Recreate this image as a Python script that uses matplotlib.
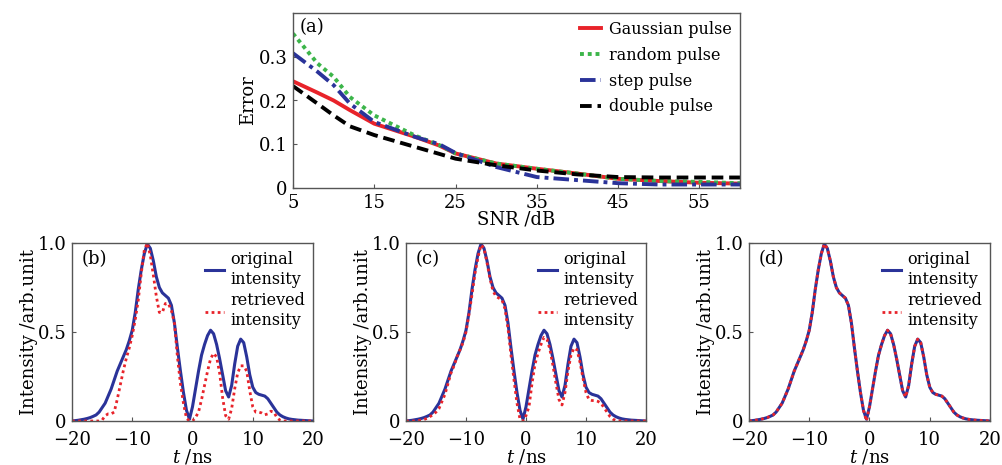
"""
Erreur de reconstruction en fonction du SNR et profils d'intensite
"""

import matplotlib
matplotlib.use("Agg")
import matplotlib.pyplot as plt

plt.rcParams['font.family'] = ['DejaVu Serif']
plt.rcParams['mathtext.fontset'] = 'dejavuserif'

# ---- (a) erreur vs SNR ----
snr_db = [5, 8, 10, 12, 15, 20, 23, 25, 30, 35, 40, 45, 50, 55, 60]
err_gauss = [0.244, 0.218, 0.200, 0.178, 0.147, 0.117, 0.097, 0.079, 0.056, 0.044, 0.033, 0.021, 0.016, 0.012, 0.010]
err_random = [0.353, 0.285, 0.254, 0.208, 0.166, 0.120, 0.098, 0.079, 0.056, 0.044, 0.033, 0.021, 0.016, 0.014, 0.011]
err_step = [0.308, 0.266, 0.235, 0.193, 0.151, 0.117, 0.100, 0.080, 0.048, 0.025, 0.018, 0.011, 0.008, 0.008, 0.008]
err_double = [0.233, 0.193, 0.166, 0.141, 0.121, 0.094, 0.078, 0.067, 0.052, 0.040, 0.031, 0.025, 0.024, 0.024, 0.024]

# ---- (b)(c)(d) intensites ----
t_ns = [-20, -19.5, -19, -18.5, -18, -17.5, -17, -16.5, -16, -15.5,
        -15, -14.5, -14, -13.5, -13, -12.5, -12, -11.5, -11, -10.5,
        -10, -9.5, -9, -8.5, -8, -7.5, -7, -6.5, -6, -5.5,
        -5, -4.5, -4, -3.5, -3, -2.5, -2, -1.5, -1, -0.5,
        0, 0.5, 1, 1.5, 2, 2.5, 3, 3.5, 4, 4.5,
        5, 5.5, 6, 6.5, 7, 7.5, 8, 8.5, 9, 9.5,
        10, 10.5, 11, 11.5, 12, 12.5, 13, 13.5, 14, 14.5,
        15, 15.5, 16, 16.5, 17, 17.5, 18, 18.5, 19, 19.5, 20]
orig = [0.0, 0.002, 0.004, 0.007, 0.010, 0.014, 0.019, 0.026, 0.034, 0.05,
        0.075, 0.10, 0.14, 0.18, 0.23, 0.28, 0.32, 0.36, 0.40, 0.45,
        0.51, 0.61, 0.74, 0.85, 0.94, 0.995, 0.97, 0.90, 0.81, 0.75,
        0.72, 0.705, 0.69, 0.65, 0.55, 0.41, 0.28, 0.16, 0.06, 0.01,
        0.08, 0.18, 0.28, 0.37, 0.43, 0.48, 0.51, 0.49, 0.43, 0.35,
        0.26, 0.17, 0.135, 0.20, 0.32, 0.42, 0.46, 0.44, 0.36, 0.26,
        0.19, 0.16, 0.15, 0.145, 0.14, 0.125, 0.10, 0.075, 0.05, 0.034,
        0.024, 0.017, 0.012, 0.009, 0.007, 0.005, 0.004, 0.003, 0.002, 0.001, 0.0]
retr_b = [0.0, 0.0, 0.0, 0.0, 0.0, 0.0, 0.0, 0.0, 0.0, 0.0,
          0.005, 0.03, 0.04, 0.04, 0.05, 0.12, 0.20, 0.28, 0.35, 0.41,
          0.48, 0.57, 0.68, 0.83, 0.96, 1.0, 0.93, 0.82, 0.70, 0.61,
          0.61, 0.66, 0.66, 0.62, 0.55, 0.36, 0.21, 0.10, 0.015, 0.0,
          0.0, 0.02, 0.05, 0.12, 0.20, 0.28, 0.35, 0.38, 0.36, 0.27,
          0.13, 0.03, 0.01, 0.07, 0.18, 0.27, 0.31, 0.31, 0.28, 0.17,
          0.08, 0.05, 0.05, 0.045, 0.035, 0.04, 0.055, 0.05, 0.02, 0.005,
          0.0, 0.0, 0.0, 0.0, 0.0, 0.0, 0.0, 0.0, 0.0, 0.0, 0.0]
retr_c = [0.0, 0.0, 0.0, 0.0, 0.002, 0.005, 0.008, 0.015, 0.025, 0.035,
          0.05, 0.07, 0.11, 0.15, 0.21, 0.27, 0.31, 0.36, 0.40, 0.44,
          0.50, 0.60, 0.71, 0.83, 0.92, 0.99, 0.97, 0.89, 0.80, 0.73,
          0.70, 0.69, 0.68, 0.63, 0.52, 0.37, 0.23, 0.10, 0.01, 0.0,
          0.03, 0.08, 0.21, 0.32, 0.38, 0.43, 0.47, 0.46, 0.40, 0.31,
          0.21, 0.12, 0.09, 0.16, 0.28, 0.37, 0.41, 0.40, 0.33, 0.24,
          0.16, 0.12, 0.115, 0.115, 0.11, 0.10, 0.075, 0.05, 0.025, 0.01,
          0.003, 0.0, 0.0, 0.0, 0.0, 0.0, 0.0, 0.0, 0.0, 0.0, 0.0]
retr_d = [0.0, 0.002, 0.004, 0.007, 0.010, 0.014, 0.019, 0.026, 0.034, 0.05,
          0.075, 0.10, 0.14, 0.18, 0.23, 0.28, 0.32, 0.36, 0.40, 0.45,
          0.51, 0.61, 0.74, 0.85, 0.94, 0.995, 0.97, 0.90, 0.81, 0.75,
          0.72, 0.705, 0.69, 0.65, 0.55, 0.41, 0.28, 0.16, 0.06, 0.0,
          0.08, 0.18, 0.28, 0.37, 0.43, 0.48, 0.51, 0.49, 0.43, 0.35,
          0.26, 0.17, 0.135, 0.20, 0.32, 0.42, 0.46, 0.44, 0.36, 0.26,
          0.19, 0.16, 0.15, 0.145, 0.14, 0.125, 0.10, 0.075, 0.05, 0.034,
          0.024, 0.017, 0.012, 0.009, 0.007, 0.005, 0.004, 0.003, 0.002, 0.001, 0.0]

FS = 13
FS_LEG = 11.5
SPINE = '#555555'
BLUE = '#2a3399'
RED = '#e8232a'


def style_axes(ax, xpad=4):
    for s in ax.spines.values():
        s.set_color(SPINE)
        s.set_linewidth(1.0)
    ax.tick_params(direction='in', length=3, width=0.8, color=SPINE,
                   labelsize=FS)
    ax.tick_params(axis='x', pad=xpad)
    ax.tick_params(axis='y', pad=4)


def plot_pulse(ax, retr, tag):
    ax.plot(t_ns, orig, color=BLUE, lw=2.2, label='original\nintensity')
    ax.plot(t_ns, retr, color=RED, lw=2.0, ls=(0, (1, 1.2)), label='retrieved\nintensity')
    ax.set_xlim(-20, 20)
    ax.set_ylim(0, 1.0)
    ax.set_xticks([-20, -10, 0, 10, 20])
    ax.set_yticks([0, 0.5, 1.0])
    ax.set_yticklabels(['0', '0.5', '1.0'])
    ax.set_xlabel('$t$ /ns', fontsize=FS, labelpad=-1)
    ax.set_ylabel('Intensity /arb.unit', fontsize=FS, labelpad=0)
    ax.text(0.04, 0.96, tag, transform=ax.transAxes, fontsize=FS, va='top')
    ax.legend(loc='upper right', frameon=False, fontsize=FS_LEG, handlelength=1.2,
              handletextpad=0.4, labelspacing=0.3, borderaxespad=0.1)
    style_axes(ax, xpad=7)


def main():
    fig = plt.figure(figsize=(10.03, 4.65), dpi=100)
    W, H = 1003.0, 465.0

    # (a)
    ax = fig.add_axes([293 / W, 1 - 188 / H, (740 - 293) / W, (188 - 13) / H])
    ax.plot(snr_db, err_gauss, color=RED, lw=2.8, label='Gaussian pulse')
    ax.plot(snr_db, err_random, color='#3cb54a', lw=2.8, ls=(0, (1, 1)), label='random pulse')
    ax.plot(snr_db, err_step, color=BLUE, lw=2.8, ls=(0, (4, 1.3, 1, 1.3)), label='step pulse')
    ax.plot(snr_db, err_double, color='black', lw=2.8, ls=(0, (3, 1.5)), label='double pulse')
    ax.set_xlim(5, 60)
    ax.set_ylim(0, 0.4)
    ax.set_xticks([5, 15, 25, 35, 45, 55])
    ax.set_yticks([0, 0.1, 0.2, 0.3])
    ax.set_yticklabels(['0', '0.1', '0.2', '0.3'])
    ax.set_xlabel('SNR /dB', fontsize=FS, labelpad=-1)
    ax.set_ylabel('Error', fontsize=FS, labelpad=1)
    ax.text(0.015, 0.97, '(a)', transform=ax.transAxes, fontsize=FS, va='top')
    ax.legend(loc='upper right', frameon=False, fontsize=FS_LEG, handlelength=1.3,
              handletextpad=0.5, labelspacing=0.55, borderaxespad=0.1)
    style_axes(ax)

    # (b) (c) (d)
    lefts = [72, 406, 749]
    rights = [313, 646, 990]
    for l, r, retr, tag in zip(lefts, rights, [retr_b, retr_c, retr_d], ['(b)', '(c)', '(d)']):
        axp = fig.add_axes([l / W, 1 - 421 / H, (r - l) / W, (421 - 243) / H])
        plot_pulse(axp, retr, tag)

    fig.savefig('out.png', dpi=100)


if __name__ == "__main__":
    main()
